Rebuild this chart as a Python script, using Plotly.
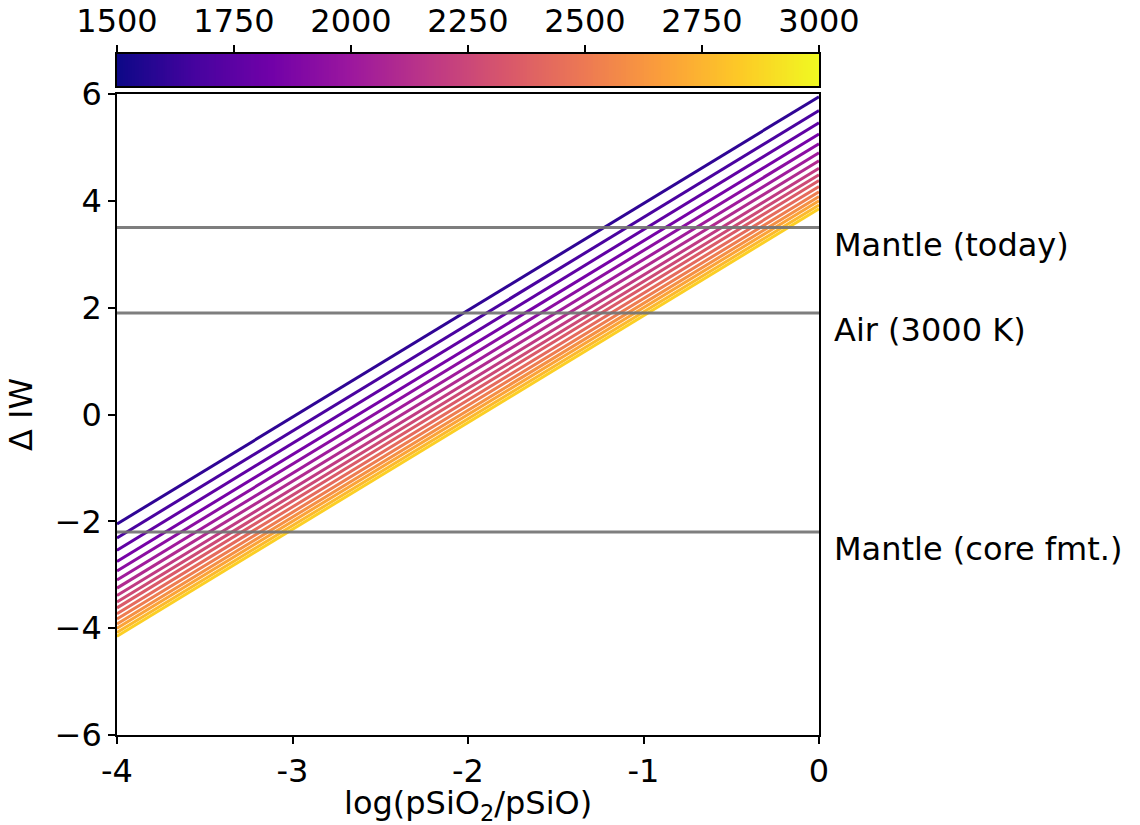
import numpy as np
import plotly.graph_objects as go
from plotly.colors import sample_colorscale

# Data
temperatures = [1600, 1683, 1767, 1850, 1933, 2017, 2100, 2183,
                2267, 2350, 2433, 2517, 2600, 2683, 2767, 2850]
intercepts = [5.95, 5.69, 5.46, 5.25, 5.07, 4.90, 4.75, 4.61,
              4.49, 4.38, 4.27, 4.17, 4.08, 4.00, 3.92, 3.85]
slope = 2.0
x_range = [-4, 0]
ref_names = ["Mantle (today)", "Air (3000 K)", "Mantle (core fmt.)"]
ref_values = [3.5, 1.9, -2.2]
x_tickvals = [-4, -3, -2, -1, 0]
x_ticktext = ["-4", "-3", "-2", "-1", "0"]
y_tickvals = [-6, -4, -2, 0, 2, 4, 6]
cbar_ticks = [1500, 1750, 2000, 2250, 2500, 2750, 3000]
tmin, tmax = 1500, 3000

FONT = "DejaVu Sans"
FS = 32

fig = go.Figure()

xs = np.array(x_range, dtype=float)
fr = [(t - tmin) / (tmax - tmin) for t in temperatures]
colors = sample_colorscale("Plasma", fr)
for t, c, col in zip(temperatures, intercepts, colors):
    fig.add_trace(go.Scatter(x=xs, y=slope * xs + c, mode="lines",
                             line=dict(color=col, width=3),
                             showlegend=False, hoverinfo="skip"))

for name, v in zip(ref_names, ref_values):
    fig.add_trace(go.Scatter(x=xs, y=[v, v], mode="lines",
                             line=dict(color="rgba(115,115,115,0.92)", width=3),
                             showlegend=False, hoverinfo="skip"))
    fig.add_annotation(x=0, y=v, xref="x", yref="y", text=name,
                       showarrow=False, xanchor="left", yanchor="top",
                       xshift=13, yshift=4,
                       font=dict(family=FONT, size=FS, color="black"))

# x axis title
fig.add_annotation(x=0.5, y=0, xref="x domain", yref="paper",
                   text="log(pSiO<sub>2</sub>/pSiO)", showarrow=False,
                   xanchor="center", yanchor="top", yshift=-47,
                   font=dict(family=FONT, size=FS, color="black"))

# colorbar as heatmap
cb_x = np.linspace(tmin, tmax, 301)
fig.add_trace(go.Heatmap(x=cb_x, y=[0], z=[cb_x], colorscale="Plasma",
                         zmin=tmin, zmax=tmax, showscale=False,
                         xaxis="x2", yaxis="y2", hoverinfo="skip"))

H_tot = 681
fig.update_layout(
    width=1140, height=825,
    margin=dict(l=117, r=321, t=54, b=90, autoexpand=False),
    plot_bgcolor="white", paper_bgcolor="white",
    font=dict(family=FONT, size=FS, color="black"),
    hovermode=False,
    xaxis=dict(range=x_range, tickvals=x_tickvals, ticktext=x_ticktext,
               showgrid=False, zeroline=False, showline=True, mirror=True,
               linecolor="black", linewidth=1.5, ticks="outside",
               ticklen=7, tickwidth=1.5, tickcolor="black",
               tickfont=dict(size=FS), automargin=False,
               domain=[0, 1]),
    yaxis=dict(range=[-6, 6], tickvals=y_tickvals,
               showgrid=False, zeroline=False, showline=True, mirror=True,
               linecolor="black", linewidth=1.5, ticks="outside",
               ticklen=7, tickwidth=1.5, tickcolor="black",
               tickfont=dict(size=FS), automargin=False,
               title=dict(text="Δ IW", standoff=12, font=dict(size=FS)),
               domain=[0, 641 / H_tot]),
    xaxis2=dict(range=[tmin, tmax], tickvals=cbar_ticks, side="top",
                anchor="y2", showgrid=False, zeroline=False, showline=True,
                mirror=True, linecolor="black", linewidth=1.5,
                ticks="outside", ticklen=7, tickwidth=1.5, tickcolor="black",
                tickfont=dict(size=FS), domain=[0, 1], automargin=False),
    yaxis2=dict(range=[-0.5, 0.5], anchor="x2", showticklabels=False,
                showgrid=False, zeroline=False, showline=True, mirror=True,
                linecolor="black", linewidth=1.5, ticks="",
                domain=[649 / H_tot, 1], automargin=False),
)

fig.write_html("out.html", config={"displayModeBar": False},
               post_script="document.body.style.margin='0';")
